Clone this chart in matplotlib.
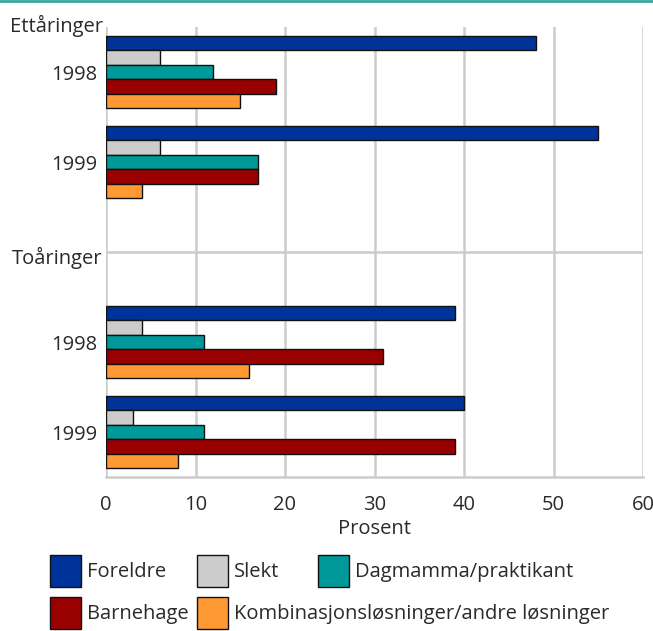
import numpy as np
import matplotlib
matplotlib.use("Agg")
import matplotlib.pyplot as plt
from matplotlib.patches import Patch
from matplotlib.lines import Line2D

plt.rcParams['font.family'] = ['Open Sans', 'DejaVu Sans']

# data (prosent)
groups = ['1998', '1999', '', '1998', '1999']
series = ['Foreldre', 'Slekt', 'Dagmamma/praktikant', 'Barnehage',
          'Kombinasjonsløsninger/andre løsninger']
foreldre = [48, 55, 0, 39, 40]
slekt = [6, 6, 0, 4, 3]
dagmamma = [12, 17, 0, 11, 11]
barnehage = [19, 17, 0, 31, 39]
kombinasjon = [15, 4, 0, 16, 8]
colors = ['#003399', '#cccccc', '#009999', '#990000', '#ff9933']
xticks = [0, 10, 20, 30, 40, 50, 60]

values = [foreldre, slekt, dagmamma, barnehage, kombinasjon]
txt = '#2a2a2a'
grid = '#cccccc'
fs = 14.5

fig = plt.figure(figsize=(6.53, 6.31), dpi=100)
ax = fig.add_axes([106/653, 1-477/631, (643-106)/653, (477-27)/631])

# top teal rule
fig.add_artist(Line2D([0, 1], [1-1/631, 1-1/631], transform=fig.transFigure,
                      color='#33a8a0', lw=2))

pos = np.arange(len(groups))
h = 0.16
mask = np.array([g != '' for g in groups])
for i, (vals, col) in enumerate(zip(values, colors)):
    y = pos - 0.4 + h/2 + i*h
    ax.barh(y[mask], np.array(vals)[mask], height=h, color=col,
            edgecolor='#111111', linewidth=1.0, zorder=3)

ax.set_xlim(0, 60)
ax.set_ylim(4.5, -0.5)
ax.set_xticks(xticks)
ax.set_xticklabels([str(t) for t in xticks], fontsize=fs, color=txt)
ax.set_yticks(pos[mask])
ax.set_yticklabels([g for g in groups if g], fontsize=fs, color=txt)
ax.tick_params(length=0, axis='x', pad=13)
ax.tick_params(length=0, axis='y', pad=6)

ax.set_yticks(pos, minor=True)
ax.grid(True, which='major', axis='x', color=grid, lw=1.8, zorder=0)
ax.grid(True, which='minor', axis='y', color=grid, lw=1.8, zorder=0)
ax.tick_params(which='minor', length=0)
for s in ['top', 'right', 'left']:
    ax.spines[s].set_visible(False)
ax.spines['bottom'].set_color(grid)
ax.spines['bottom'].set_linewidth(1.8)

ax.set_xlabel('Prosent', fontsize=fs, color=txt, labelpad=3)

fig.text(10/653, 1-32/631, 'Ettåringer', fontsize=fs, color=txt,
         va='baseline', ha='left')
fig.text(12/653, 1-264/631, 'Toåringer', fontsize=fs, color=txt,
         va='baseline', ha='left')

# legend: one entry per slot, two rows
slots = [(50, 571), (197, 571), (318, 571), (50, 613), (197, 613)]
for name, col, (px, py) in zip(series, colors, slots):
    fig.legend([Patch(facecolor=col, edgecolor='#111111', lw=1.0)], [name],
               loc='center left', bbox_to_anchor=(px/653, 1-py/631),
               frameon=False, fontsize=fs, handlelength=1.55, handleheight=2.0,
               handletextpad=0.3, borderaxespad=0, borderpad=0, labelcolor=txt)

fig.savefig('out.png', dpi=100)
